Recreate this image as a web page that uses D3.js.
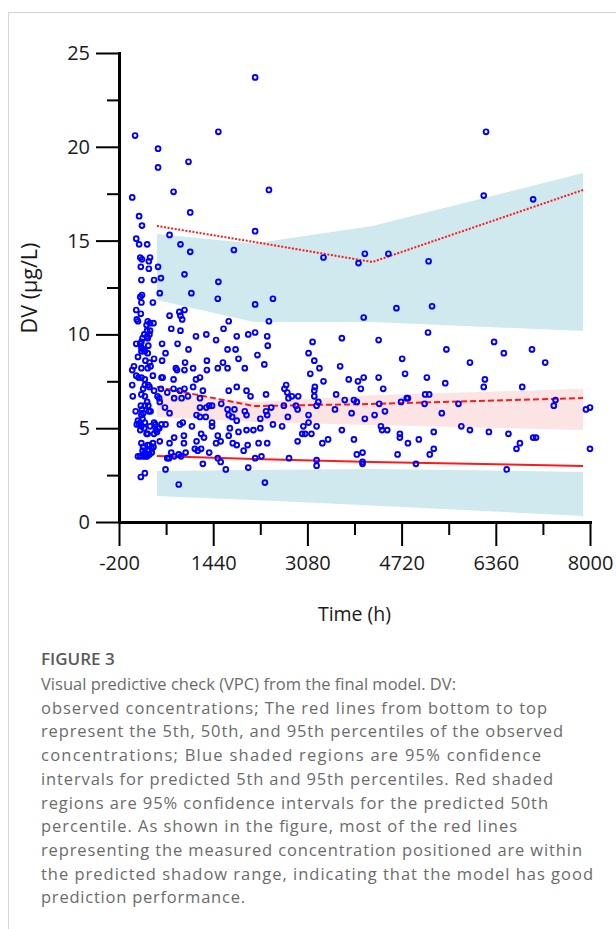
<!DOCTYPE html>
<html><head><meta charset="utf-8">
<script src="https://cdn.jsdelivr.net/npm/d3@7"></script>
<style>
html,body{margin:0;padding:0;background:#fff;}
svg{display:block;}
</style></head><body>
<svg id="chart" width="616" height="929"></svg>
<script>
// ---- data ----
const xTickValues = [-200, 1440, 3080, 4720, 6360, 8000];
const xMinorTicks = [620, 2260, 3900, 5540, 7180];
const yTickValues = [0, 5, 10, 15, 20, 25];
const yMinorTicks = [2.5, 7.5, 12.5, 17.5, 22.5];

const binTimes = [460, 2150, 4210, 7880];
const ci95Hi = [15.35, 14.85, 15.78, 18.6];
const ci95Lo = [11.83, 10.66, 10.66, 10.18];
const ci50Hi = [6.88, 6.4, 6.75, 7.1];
const ci50Lo = [5.6, 5.33, 5.17, 4.9];
const ci5Hi = [2.72, 2.77, 2.83, 2.67];
const ci5Lo = [1.39, 1.17, 0.88, 0.32];

const obs95 = [15.78, 14.93, 13.86, 17.7];
const obs50 = [7.2, 6.18, 6.29, 6.61];
const obs5 = [3.52, 3.36, 3.2, 2.99];

const observed = [
[80,20.6],[480,19.9],[480,18.9],[1010,19.2],[750,17.6],[30,17.3],[1040,16.5],[150,16.3],[200,15.8],[100,15.1],[150,14.8],[290,14.8],[680,15.3],[870,14.8],[1040,14.4],[170,14.1],[200,14.0],[340,14.1],[320,13.9],[180,13.6],[320,13.5],[480,13.6],[190,12.9],[410,12.9],[530,13.0],[940,13.2],[1530,12.8],[1530,20.8],[2170,23.7],[2410,17.7],[2170,15.5],[1800,14.5],[3360,14.1],[3970,13.8],[4080,14.3],[4490,14.3],[6190,20.8],[6150,17.4],[7010,17.2],[5190,13.9],
[200,12.1],[170,12.0],[190,11.7],[390,11.7],[510,12.2],[100,11.3],[180,11.1],[680,11.0],[850,11.2],[870,11.0],[940,11.3],[110,10.8],[130,10.7],[300,10.7],[340,10.6],[400,10.6],[280,10.5],[290,10.2],[340,10.2],[710,10.3],[900,10.8],[870,10.2],[240,10.0],[290,9.9],[330,10.0],[210,9.8],[190,9.6],[170,9.5],[300,9.8],[100,9.5],[190,9.3],[220,9.2],[190,9.1],[250,9.1],[310,9.4],[550,9.5],[820,9.5],[610,9.0],[300,9.0],[130,8.8],[410,8.7],[550,8.6],[260,8.6],[330,8.5],[350,8.3],[950,8.5],[60,8.3],[30,8.1],[190,8.2],[300,8.2],[790,8.2],[810,8.1],[940,8.1],[100,7.8],[140,7.7],[190,7.7],[250,7.6],[390,7.8],[540,7.7],[560,7.7],[750,7.6],[30,7.3],[250,7.3],[310,7.3],[330,7.2],[220,7.1],[410,7.0],[530,7.1],[640,6.9],[750,7.1],[860,7.0],[940,7.1],[40,6.7],[190,6.8],[250,6.7],[470,6.7],[500,6.6],[760,6.6],[890,6.6],[1000,6.7],
[90,5.9],[180,6.2],[250,6.2],[290,6.4],[310,6.2],[200,6.0],[220,5.8],[320,5.9],[350,5.9],[510,6.4],[600,6.1],[680,5.8],[190,5.7],[210,5.5],[130,5.4],[110,5.2],[150,5.2],[170,5.3],[190,5.1],[250,5.3],[240,5.0],[340,5.1],[410,5.3],[430,5.2],[540,5.2],[610,5.2],[860,5.2],[910,5.3],[170,4.9],[280,4.7],[300,4.7],[440,4.9],[480,5.0],[500,5.0],[460,4.8],[410,4.7],[760,4.5],[930,4.6],[510,4.3],[190,4.2],[220,4.0],[300,4.1],[330,4.1],[390,4.2],[400,4.0],[680,4.2],[930,4.2],[210,3.8],[250,3.7],[320,3.8],[370,3.7],[370,3.9],[330,3.6],[280,3.6],[710,3.7],[170,3.5],[220,3.5],[260,3.5],[290,3.5],[130,3.5],[640,3.4],[670,3.4],[760,3.5],[840,3.6],[880,3.5],[960,3.7],[610,2.8],[250,2.6],[180,2.4],[840,2.0],
[1060,12.2],[1140,9.9],[1010,9.2],[1090,8.2],[1140,7.6],[1090,7.2],[1070,5.1],[1150,5.7],[1150,4.3],[1120,3.9],[1170,3.8],[1210,5.6],
[1520,11.9],[2170,11.6],[2480,11.9],[4630,11.4],[4060,10.9],[1710,10.7],[2410,10.7],[1320,10.0],[1620,10.3],[1490,9.7],[1850,9.9],[2050,10.0],[2170,10.1],[2380,9.9],[2390,9.4],[3170,9.6],[3680,9.8],[4320,9.7],[1690,9.2],[1830,9.2],[3100,9.0],[2210,8.9],[1880,8.7],[1330,8.6],[1610,8.5],[3200,8.6],[1330,8.1],[1520,8.2],[1690,8.2],[1990,8.2],[2330,8.4],[3290,8.2],[3650,8.3],[3130,7.9],[1210,7.7],[3800,7.6],[3960,7.5],[4060,7.7],[4320,7.7],[3360,7.5],[3210,7.2],[4010,7.1],[4400,7.1],[1850,7.2],[2710,7.3],[2680,7.1],[2730,6.9],[2810,6.7],[2920,6.7],[2750,6.6],[3200,7.0],[3200,6.7],[3580,6.8],[1710,7.0],[2020,7.0],[2090,6.7],[2360,6.8],[1260,7.0],[1210,6.6],[3730,6.5],[3890,6.5],[3940,6.4],[3270,6.4],[4330,6.3],[1210,6.1],[1320,6.1],[1420,6.2],[1580,6.3],[1370,6.2],[1690,6.0],[1810,6.0],[1990,5.9],[2020,5.7],[2360,5.9],[2380,5.7],[2450,6.1],[2670,6.2],[2880,6.2],[2910,6.0],[3240,6.2],[3560,6.0],[3850,5.8],[4080,5.5],[4250,5.7],[4430,5.9],[1310,5.6],[1710,5.7],[1770,5.6],[1850,5.4],[2260,5.5],[1420,5.3],[1420,5.1],[2480,5.2],[2640,5.1],[2740,5.6],[3100,5.7],[3100,5.3],[3010,5.1],[3240,5.1],[3680,4.9],[4360,5.1],[4380,4.9],[4470,4.9],[1230,4.7],[1280,4.5],[1730,5.0],[1710,4.6],[1880,4.8],[2020,4.9],[2140,4.9],[2260,5.0],[1520,4.6],[1570,4.3],[1490,4.2],[1780,4.2],[1850,4.1],[2040,4.1],[2230,4.2],[2380,4.2],[1970,3.8],[1370,3.7],[1230,3.9],[2990,4.7],[3040,4.7],[3150,4.7],[2910,4.3],[3340,4.2],[3440,4.4],[3890,4.4],[3940,3.6],[4040,3.7],[4650,3.6],[1260,3.1],[1520,3.4],[1570,3.2],[1660,2.8],[2050,2.9],[2170,3.4],[2280,3.5],[2760,3.4],[3240,3.3],[3240,3.0],[4040,3.2],[4040,3.1],[2340,2.1],
[5250,11.5],[5180,10.1],[5500,9.2],[6330,9.6],[6500,9.0],[6990,9.2],[5910,8.5],[7220,8.5],[4730,8.7],[4780,7.9],[5160,7.7],[5480,7.4],[6170,7.6],[6150,7.2],[6820,7.2],[4810,6.6],[4830,6.6],[4710,6.4],[5130,6.8],[5200,6.8],[5120,6.3],[5710,6.3],[5420,5.8],[7400,6.5],[7370,6.2],[7930,6.0],[8000,6.1],[5760,5.1],[5910,4.9],[6240,4.8],[6580,4.7],[4830,4.2],[5020,4.4],[5280,4.8],[6780,4.2],[6720,3.9],[7010,4.5],[7060,4.5],[5210,3.6],[5280,3.9],[8000,3.9],[4970,3.1],[6550,2.8],[4690,4.7],[4690,4.5]
];

const xTitle = "Time (h)";
const yTitle = "DV (μg/L)";
const figLabel = "FIGURE 3";
const captionLines = [
"Visual predictive check (VPC) from the final model. DV:",
"observed concentrations; The red lines from bottom to top",
"represent the 5th, 50th, and 95th percentiles of the observed",
"concentrations; Blue shaded regions are 95% confidence",
"intervals for predicted 5th and 95th percentiles. Red shaded",
"regions are 95% confidence intervals for the predicted 50th",
"percentile. As shown in the figure, most of the red lines",
"representing the measured concentration positioned are within",
"the predicted shadow range, indicating that the model has good",
"prediction performance."
];
// measured line widths of the caption in the reference (px)
const captionWidths = [415, 506, 522, 500, 512, 507, 476, 541, 552, 204];

// ---- drawing ----
const svg = d3.select("#chart");
const FONT = "'Open Sans', 'Noto Sans', sans-serif";
const x = d3.scaleLinear().domain([-200, 8000]).range([119, 590]);
const y = d3.scaleLinear().domain([0, 25]).range([522, 53]);

// frame lines
svg.append("line").attr("x1", 8).attr("x2", 616).attr("y1", 12.5).attr("y2", 12.5)
  .attr("stroke", "#d6d6d6").attr("stroke-width", 1);
svg.append("line").attr("x1", 8.5).attr("x2", 8.5).attr("y1", 12).attr("y2", 929)
  .attr("stroke", "#d6d6d6").attr("stroke-width", 1);

function band(lo, hi, color) {
  const data = binTimes.map((t, i) => ({t, lo: lo[i], hi: hi[i]}));
  svg.append("path").datum(data)
    .attr("d", d3.area().x(d => x(d.t)).y0(d => y(d.lo)).y1(d => y(d.hi)))
    .attr("fill", color);
}
band(ci95Lo, ci95Hi, "#cfe9ef");
band(ci5Lo, ci5Hi, "#cfe9ef");
band(ci50Lo, ci50Hi, "#fde4e4");

function obsLine(vals, dash) {
  const data = binTimes.map((t, i) => ({t, v: vals[i]}));
  svg.append("path").datum(data)
    .attr("d", d3.line().x(d => x(d.t)).y(d => y(d.v)))
    .attr("fill", "none").attr("stroke", "#ff1a1a").attr("stroke-width", 2)
    .attr("stroke-dasharray", dash);
}
obsLine(obs95, "2,1.6");
obsLine(obs50, "6,3");
obsLine(obs5, null);

svg.append("g").selectAll("circle").data(observed).join("circle")
  .attr("cx", d => x(d[0])).attr("cy", d => y(d[1])).attr("r", 2.4)
  .attr("fill", "none").attr("stroke", "#0000ff").attr("stroke-width", 1.9);

// axes
function styleAxis(g) {
  g.attr("font-family", FONT).attr("font-size", 20);
  g.selectAll(".tick line").attr("stroke", "#000").attr("stroke-width", 2);
  g.selectAll(".tick text").attr("fill", "#1a1a1a");
}
const gyMinor = svg.append("g").attr("transform", "translate(119,0)")
  .call(d3.axisLeft(y).tickValues(yMinorTicks).tickSize(12).tickFormat("").tickSizeOuter(0));
gyMinor.select(".domain").remove();
styleAxis(gyMinor);
const gxMinor = svg.append("g").attr("transform", "translate(0,522)")
  .call(d3.axisBottom(x).tickValues(xMinorTicks).tickSize(13).tickFormat("").tickSizeOuter(0));
gxMinor.select(".domain").remove();
styleAxis(gxMinor);

const gy = svg.append("g").attr("transform", "translate(119,0)")
  .call(d3.axisLeft(y).tickValues(yTickValues).tickSize(23).tickPadding(6).tickSizeOuter(0));
styleAxis(gy);
gy.select(".domain").attr("stroke", "#000").attr("stroke-width", 3).attr("stroke-linecap", "square");

const gx = svg.append("g").attr("transform", "translate(0,522)")
  .call(d3.axisBottom(x).tickValues(xTickValues).tickSize(24).tickPadding(10).tickSizeOuter(0));
styleAxis(gx);
gx.select(".domain").attr("stroke", "#000").attr("stroke-width", 3).attr("stroke-linecap", "square");
gx.selectAll(".tick text").text(d => String(d));

svg.append("text").attr("x", 354.5).attr("y", 621).attr("text-anchor", "middle")
  .attr("font-family", FONT).attr("font-size", 19.5).attr("fill", "#1a1a1a").text(xTitle);
svg.append("text").attr("transform", "translate(37,288) rotate(-90)").attr("text-anchor", "middle")
  .attr("font-family", FONT).attr("font-size", 21.5).attr("fill", "#1a1a1a").text(yTitle);

// caption
svg.append("text").attr("x", 41).attr("y", 665).attr("font-family", FONT)
  .attr("font-size", 17).attr("font-weight", 600).attr("fill", "#5a5a5a").text(figLabel);
svg.append("g").selectAll("text").data(captionLines).join("text")
  .attr("x", 41).attr("y", (d, i) => 690 + i * 23.7)
  .attr("font-family", FONT).attr("font-size", 16.5).attr("fill", "#6b6b6b")
  .attr("textLength", (d, i) => captionWidths[i]).attr("lengthAdjust", "spacing")
  .text(d => d);
</script>
</body></html>
